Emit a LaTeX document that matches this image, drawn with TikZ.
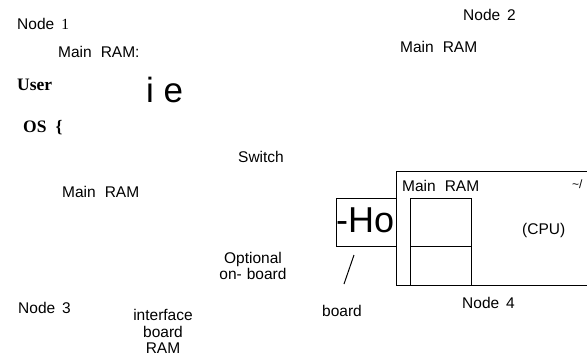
\documentclass[tikz,border=0pt]{standalone}
\usepackage{fontspec}
\setmainfont{Liberation Sans}
\newfontfamily\seriffam{Liberation Serif}
\newcommand\wgap{\hspace{9pt}}
\begin{document}
\begin{tikzpicture}[x=1pt,y=-1pt,
  txt/.style={anchor=base west, inner sep=0pt, font=\fontsize{15.5}{17}\selectfont},
  ctxt/.style={anchor=base, inner sep=0pt, font=\fontsize{15.5}{17}\selectfont},
  btxt/.style={anchor=base west, inner sep=0pt, font=\seriffam\bfseries\fontsize{17.5}{19}\selectfont},
  line/.style={draw=black, line width=1pt}]
\useasboundingbox (0,0) rectangle (587,356);
% texts
\node[txt] (n1) at (17,29) {Node\hspace{7pt}{\seriffam 1}};
\node[txt] (ram1) at (58,57) {Main\wgap RAM:};
\node[btxt] (user) at (17,90) {User};
\node[anchor=base west, inner sep=0pt, font=\fontsize{35}{38}\selectfont] (ie) at (146,102) {i e};
\node[btxt] (os) at (23,132) {OS\hspace{9pt}\{};
\node[txt] (sw) at (238,162) {Switch};
\node[txt] (n2) at (463,20) {Node\hspace{7pt}2};
\node[txt] (ram2) at (400,52) {Main\wgap RAM};
\node[txt] (ram3) at (62,197) {Main\wgap RAM};
\node[txt] (n3) at (18,313) {Node\hspace{7pt}3};
\node[ctxt] (if1) at (163,320) {interface};
\node[ctxt] (if2) at (163,337) {board};
\node[ctxt] (if3) at (163,353) {RAM};
\node[ctxt] (op1) at (253,263) {Optional};
\node[ctxt] (op2) at (253,279) {on-\hspace{5pt}board};
\node[txt] (bd) at (322,316) {board};
\node[txt] (n4) at (462,308) {Node\hspace{7pt}4};
\node[txt] (ram4) at (402,191) {Main\wgap RAM};
\node[txt] (cpu) at (522,234) {(CPU)};
\node[anchor=base west, inner sep=0pt, font=\fontsize{12}{14}\selectfont] (tl) at (572,188) {\textasciitilde/};
% boxes
\draw[line] (590,171) -- (396,171) -- (396,285) -- (590,285);
\draw[line] (410,285) -- (410,198) -- (471,198) -- (471,285);
\draw[line] (410,246) -- (471,246);
\node[draw=black, line width=1pt, minimum width=60pt, minimum height=48pt, inner sep=0pt, anchor=north west] (ho) at (336,198) {};
\node[anchor=base west, inner sep=0pt, font=\fontsize{36}{40}\selectfont] (hotxt) at (336,232) {-Ho};
\draw[line] (354,255) -- (344,284);
\end{tikzpicture}
\end{document}
